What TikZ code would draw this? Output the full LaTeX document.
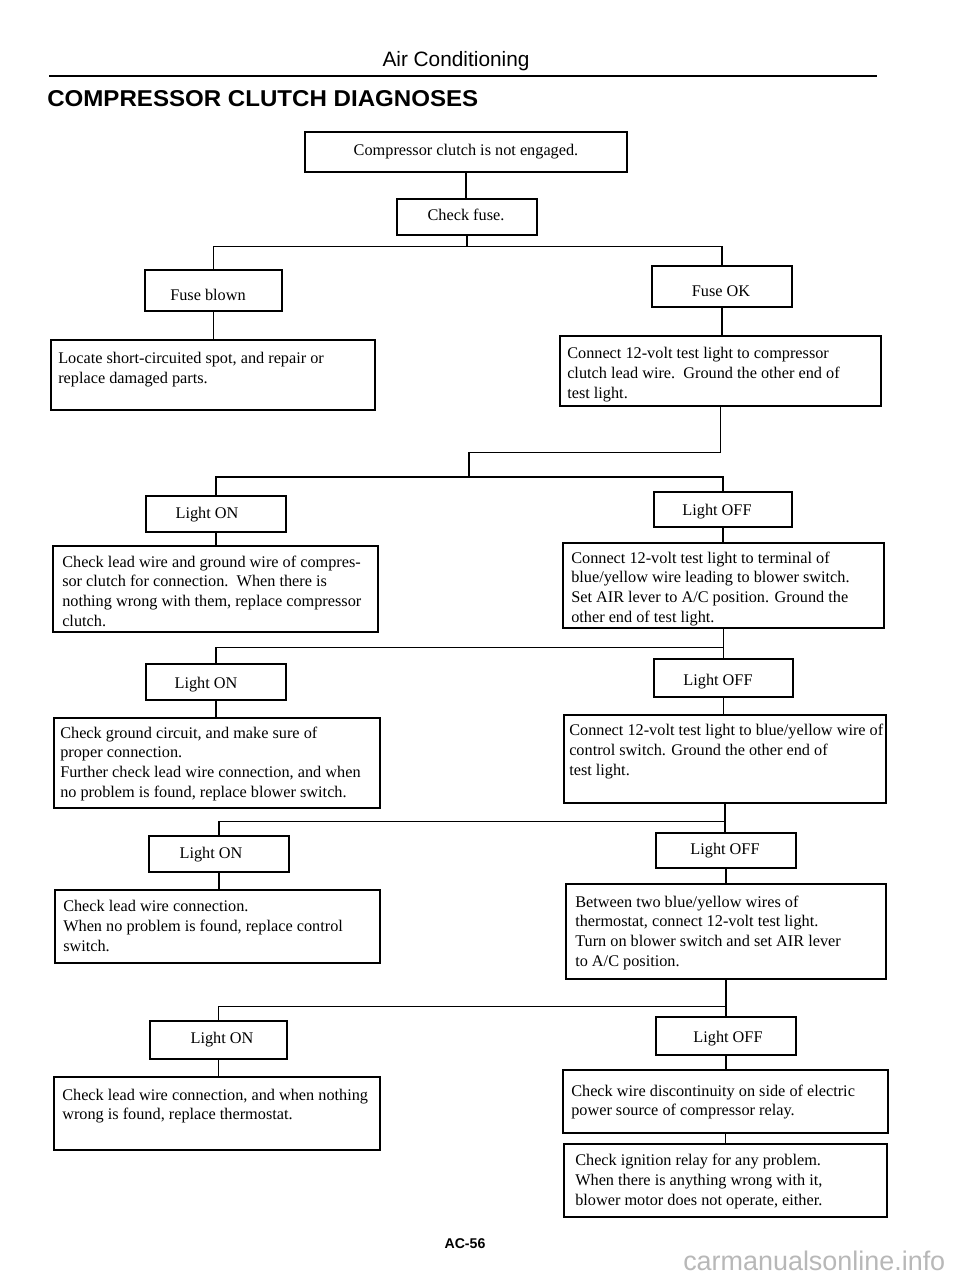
\documentclass[tikz,border=0pt]{standalone}
\usepackage{fontspec}
\usepackage{graphicx}
\setmainfont{Liberation Serif}
\newfontfamily\hdr{Liberation Sans}
\begin{document}
\begin{tikzpicture}[x=0.75pt,y=-0.75pt,
  boxst/.style={draw, line width=1.2pt, inner sep=0pt},
  body/.style={font=\fontsize{12.2pt}{14.9pt}\selectfont, align=left, inner sep=0pt, anchor=base west},
  lbl/.style={font=\fontsize{12.2pt}{14.9pt}\selectfont, inner sep=0pt, anchor=base},
  conn/.style={line width=1pt}]
\newcommand\bx[5]{\node[boxst, minimum width={(#4-#2)*0.75pt}, minimum height={(#5-#3)*0.75pt}] (#1) at ({(#2+#4)/2},{(#3+#5)/2}) {};}
\fill[white] (0,0) rectangle (960,1279);
\useasboundingbox (0,0) rectangle (960,1279);
% header
\node[font=\hdr, inner sep=0pt, anchor=base] (hd) at (456,66) {\resizebox{110.25pt}{!}{Air Conditioning}};
\draw[line width=2.2pt] (49,76) -- (877,76);
\node[font=\hdr\bfseries, inner sep=0pt, anchor=west] (title) at (47,98.5) {\resizebox{323.25pt}{12pt}{COMPRESSOR CLUTCH DIAGNOSES}};
% boxes
\bx{b1}{305}{132}{627}{172}
\bx{cf}{397}{199}{537}{235}
\bx{fb}{145}{270}{282}{311}
\bx{fo}{652}{266}{792}{307}
\bx{loc}{51}{340}{375}{410}
\bx{c1}{560}{336}{881}{406}
\bx{l1}{146}{496}{286}{532}
\bx{f1}{654}{492}{792}{527}
\bx{t1}{53}{546}{378}{632}
\bx{c2}{563}{543}{884}{628}
\bx{l2}{146}{664}{286}{700}
\bx{f2}{654}{659}{793}{697}
\bx{t2}{54}{718}{380}{808}
\bx{c3}{564}{715}{886}{803}
\bx{l3}{149}{836}{289}{872}
\bx{f3}{656}{833}{796}{868}
\bx{t3}{55}{890}{380}{963}
\bx{c4}{566}{884}{886}{979}
\bx{l4}{150}{1021}{287}{1059}
\bx{f4}{656}{1017}{796}{1055}
\bx{t4}{54}{1077}{380}{1150}
\bx{c5}{563}{1070}{888}{1133}
\bx{c6}{564}{1144}{887}{1217}
% labels
\node[lbl] (tb1) at (466,155) {Compressor clutch is not engaged.};
\node[lbl] (tcf) at (466,220) {Check fuse.};
\node[lbl] (tfb) at (208,300) {Fuse blown};
\node[lbl] (tfo) at (721,296) {Fuse OK};
\node[lbl] (tl1) at (207,518) {Light ON};
\node[lbl] (tf1) at (717,515) {Light OFF};
\node[lbl] (tl2) at (206,688) {Light ON};
\node[lbl] (tf2) at (718,685) {Light OFF};
\node[lbl] (tl3) at (211,858) {Light ON};
\node[lbl] (tf3) at (725,854) {Light OFF};
\node[lbl] (tl4) at (222,1043) {Light ON};
\node[lbl] (tf4) at (728,1042) {Light OFF};
% body texts (anchored at the baseline of the last line)
\node[body] (tloc) at (58,383) {Locate short-circuited spot, and repair or\\replace damaged parts.};
\node[body] (tc1) at (567,398.7) {Connect 12-volt test light to compressor\\clutch lead wire.\ \ Ground the other end of\\test light.};
\node[body] (tt1) at (62,626.6) {Check lead wire and ground wire of compres-\\sor clutch for connection.\ \ When there is\\nothing wrong with them, replace compressor\\clutch.};
\node[body] (tc2) at (571,622.6) {Connect 12-volt test light to terminal of\\blue/yellow wire leading to blower switch.\\Set AIR lever to A/C position. Ground the\\other end of test light.};
\node[body] (tt2) at (60,797.6) {Check ground circuit, and make sure of\\proper connection.\\Further check lead wire connection, and when\\no problem is found, replace blower switch.};
\node[body] (tc3) at (569,775.7) {Connect 12-volt test light to blue/yellow wire of\\control switch. Ground the other end of\\test light.};
\node[body] (tt3) at (63,951.7) {Check lead wire connection.\\When no problem is found, replace control\\switch.};
\node[body] (tc4) at (575,966.6) {Between two blue/yellow wires of\\thermostat, connect 12-volt test light.\\Turn on blower switch and set AIR lever\\to A/C position.};
\node[body] (tt4) at (62,1119.9) {Check lead wire connection, and when nothing\\wrong is found, replace thermostat.};
\node[body] (tc5) at (571,1115.9) {Check wire discontinuity on side of electric\\power source of compressor relay.};
\node[body] (tc6) at (575,1205.7) {Check ignition relay for any problem.\\When there is anything wrong with it,\\blower motor does not operate, either.};
% connectors
\draw[conn] (b1.south) -- (b1.south |- cf.north);
\path (cf.south) ++(0,11) coordinate (j1);
\draw[conn] (cf.south) -- (j1);
\draw[conn] (fb.north) |- (j1) -| (fo.north);
\draw[conn] (fb.south) -- (fb.south |- loc.north);
\draw[conn] (fo.south) -- (fo.south |- c1.north);
\path (c1.south) ++(0,46) coordinate (j2);
\coordinate (j3) at (469,477);
\draw[conn] (c1.south) -- (j2) -| (j3);
\draw[conn] (l1.north) |- (j3) -| (f1.north);
\draw[conn] (l1.south) -- (l1.south |- t1.north);
\draw[conn] (f1.south) -- (f1.south |- c2.north);
\draw[conn] (c2.south) -- (c2.south |- f2.north);
\path (c2.south) ++(0,19) coordinate (j4);
\draw[conn] (l2.north) |- (j4);
\draw[conn] (l2.south) -- (l2.south |- t2.north);
\draw[conn] (f2.south) -- (f2.south |- c3.north);
\draw[conn] (c3.south) -- (c3.south |- f3.north);
\path (c3.south) ++(0,18) coordinate (j5);
\draw[conn] (l3.north) |- (j5);
\draw[conn] (l3.south) -- (l3.south |- t3.north);
\draw[conn] (f3.south) -- (f3.south |- c4.north);
\draw[conn] (c4.south) -- (c4.south |- f4.north);
\path (c4.south) ++(0,27) coordinate (j6);
\draw[conn] (l4.north) |- (j6);
\draw[conn] (l4.south) -- (l4.south |- t4.north);
\draw[conn] (f4.south) -- (f4.south |- c5.north);
\draw[conn] (c5.south) -- (c5.south |- c6.north);
% footer
\node[font={\hdr\bfseries\fontsize{10.6pt}{12pt}\selectfont}, inner sep=0pt, anchor=base] (pg) at (465,1248) {AC-56};
\node[font={\hdr\fontsize{20.2pt}{24pt}\selectfont}, text=black!28, inner sep=0pt, anchor=base west] (wm) at (683,1270) {carmanualsonline.info};
\end{tikzpicture}
\end{document}
